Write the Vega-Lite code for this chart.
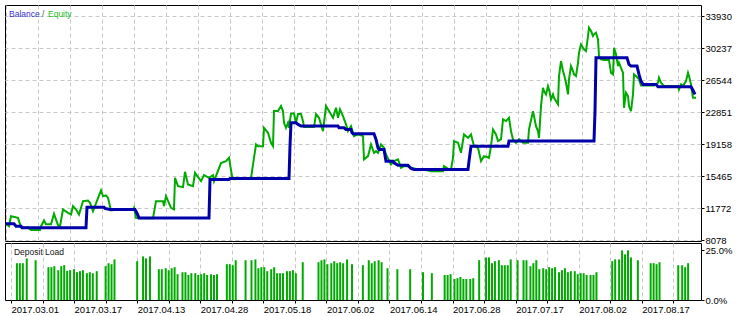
{
  "$schema": "https://vega.github.io/schema/vega-lite/v6.json",
  "background": "white",
  "padding": {"left": 4, "top": 4, "right": 0, "bottom": 0},
  "spacing": 2,
  "bounds": "flush",
  "config": {
    "view": {"stroke": "#000000", "strokeWidth": 1},
    "font": "Liberation Sans",
    "axis": {
      "labelFont": "Liberation Sans",
      "labelFontSize": 9.5,
      "labelColor": "#000000",
      "tickColor": "#000000",
      "tickSize": 3,
      "domain": false,
      "gridColor": "#c8c8c8",
      "gridDash": [4, 3],
      "gridWidth": 1,
      "title": null,
      "labelOverlap": false,
      "labelFlush": false,
      "labelBound": false
    }
  },
  "datasets": {
    "equity": [
      {"t":0,"v":10000},{"t":3,"v":9728},{"t":5,"v":10882},{"t":12,"v":10686},{"t":15,"v":9613},{"t":22,"v":9578},{"t":25,"v":9301},{"t":34,"v":9301},{"t":35,"v":9728},{"t":38,"v":10386},{"t":40,"v":9959},{"t":45,"v":9959},{"t":48,"v":11147},{"t":52,"v":9844},{"t":54,"v":9728},{"t":57,"v":11655},{"t":62,"v":11263},{"t":65,"v":11078},{"t":67,"v":12036},{"t":70,"v":11655},{"t":73,"v":11078},{"t":77,"v":12613},{"t":82,"v":12694},{"t":84,"v":12417},{"t":87,"v":11459},{"t":95,"v":13848},{"t":97,"v":13190},{"t":100,"v":13271},{"t":102,"v":12994},{"t":105,"v":11540},{"t":110,"v":11609},{"t":120,"v":11690},{"t":127,"v":11609},{"t":128,"v":11840},{"t":130,"v":10686},{"t":135,"v":10651},{"t":147,"v":10651},{"t":150,"v":12613},{"t":157,"v":12613},{"t":158,"v":12036},{"t":160,"v":13190},{"t":165,"v":11840},{"t":168,"v":11655},{"t":169,"v":15302},{"t":172,"v":14344},{"t":177,"v":14229},{"t":179,"v":15994},{"t":182,"v":14541},{"t":187,"v":14344},{"t":189,"v":15878},{"t":195,"v":14921},{"t":198,"v":15613},{"t":203,"v":15302},{"t":207,"v":15613},{"t":208,"v":14921},{"t":215,"v":16998},{"t":220,"v":17229},{"t":223,"v":17612},{"t":226,"v":15498},{"t":228,"v":15152},{"t":245,"v":15267},{"t":248,"v":17612},{"t":250,"v":19156},{"t":252,"v":18960},{"t":257,"v":18960},{"t":258,"v":21072},{"t":262,"v":20495},{"t":265,"v":19341},{"t":267,"v":18960},{"t":268,"v":22999},{"t":272,"v":22999},{"t":275,"v":23576},{"t":277,"v":22999},{"t":278,"v":21649},{"t":280,"v":21072},{"t":282,"v":21649},{"t":283,"v":21072},{"t":285,"v":22711},{"t":288,"v":22711},{"t":290,"v":21649},{"t":292,"v":22653},{"t":295,"v":22653},{"t":297,"v":21845},{"t":298,"v":21153},{"t":308,"v":21153},{"t":310,"v":22653},{"t":313,"v":22226},{"t":317,"v":20691},{"t":320,"v":23576},{"t":323,"v":22999},{"t":327,"v":22226},{"t":330,"v":23380},{"t":332,"v":22226},{"t":334,"v":23195},{"t":337,"v":22422},{"t":340,"v":21464},{"t":342,"v":20691},{"t":345,"v":21268},{"t":348,"v":20114},{"t":352,"v":20311},{"t":357,"v":20114},{"t":358,"v":17425},{"t":362,"v":17806},{"t":365,"v":19156},{"t":368,"v":18187},{"t":370,"v":18383},{"t":372,"v":18187},{"t":375,"v":19156},{"t":378,"v":18764},{"t":380,"v":17997},{"t":385,"v":16849},{"t":388,"v":17229},{"t":392,"v":17425},{"t":395,"v":16456},{"t":398,"v":16652},{"t":402,"v":16652},{"t":405,"v":16456},{"t":412,"v":16272},{"t":418,"v":16272},{"t":425,"v":16075},{"t":437,"v":16075},{"t":438,"v":16652},{"t":443,"v":16272},{"t":445,"v":16272},{"t":447,"v":17612},{"t":448,"v":19537},{"t":452,"v":19341},{"t":455,"v":18187},{"t":458,"v":20311},{"t":462,"v":19918},{"t":465,"v":20311},{"t":468,"v":18960},{"t":472,"v":18764},{"t":475,"v":17229},{"t":478,"v":17806},{"t":483,"v":17612},{"t":485,"v":18960},{"t":487,"v":20887},{"t":490,"v":20311},{"t":492,"v":19537},{"t":495,"v":19733},{"t":497,"v":22041},{"t":500,"v":21845},{"t":503,"v":22226},{"t":505,"v":20691},{"t":507,"v":19733},{"t":510,"v":19341},{"t":513,"v":19768},{"t":517,"v":19341},{"t":522,"v":19341},{"t":523,"v":20887},{"t":527,"v":22999},{"t":528,"v":22422},{"t":530,"v":21268},{"t":532,"v":20691},{"t":533,"v":19918},{"t":535,"v":23576},{"t":537,"v":25688},{"t":538,"v":25307},{"t":540,"v":24926},{"t":542,"v":25883},{"t":543,"v":25503},{"t":545,"v":24349},{"t":547,"v":24926},{"t":548,"v":24534},{"t":552,"v":23772},{"t":553,"v":27038},{"t":555,"v":28769},{"t":557,"v":27615},{"t":558,"v":27234},{"t":560,"v":26265},{"t":562,"v":24926},{"t":563,"v":26657},{"t":565,"v":28192},{"t":567,"v":27615},{"t":568,"v":27234},{"t":570,"v":27038},{"t":572,"v":28573},{"t":573,"v":29727},{"t":575,"v":30696},{"t":577,"v":30304},{"t":578,"v":30119},{"t":580,"v":29923},{"t":582,"v":31654},{"t":583,"v":32612},{"t":585,"v":32231},{"t":587,"v":31654},{"t":588,"v":31850},{"t":590,"v":32035},{"t":592,"v":31273},{"t":593,"v":29346},{"t":595,"v":28965},{"t":598,"v":28885},{"t":603,"v":28885},{"t":605,"v":27419},{"t":607,"v":27234},{"t":608,"v":30304},{"t":610,"v":29542},{"t":612,"v":28192},{"t":613,"v":28573},{"t":615,"v":27996},{"t":617,"v":27419},{"t":618,"v":23380},{"t":620,"v":25111},{"t":622,"v":24730},{"t":623,"v":23576},{"t":625,"v":22999},{"t":627,"v":24926},{"t":628,"v":27234},{"t":630,"v":27038},{"t":633,"v":26657},{"t":635,"v":25942},{"t":648,"v":25942},{"t":652,"v":26265},{"t":653,"v":26842},{"t":655,"v":26265},{"t":658,"v":25884},{"t":672,"v":25884},{"t":673,"v":25503},{"t":675,"v":26080},{"t":677,"v":25884},{"t":680,"v":26461},{"t":682,"v":27419},{"t":683,"v":27038},{"t":685,"v":26080},{"t":687,"v":24534},{"t":690,"v":24534}
    ],
    "balance": [
      {"t":0,"v":10000},{"t":8,"v":10000},{"t":10,"v":9715},{"t":15,"v":9715},{"t":16,"v":9554},{"t":80,"v":9554},{"t":81,"v":11921},{"t":98,"v":11921},{"t":99,"v":11771},{"t":104,"v":11655},{"t":129,"v":11655},{"t":131,"v":11228},{"t":133,"v":10686},{"t":203,"v":10686},{"t":204,"v":15117},{"t":223,"v":15117},{"t":224,"v":15233},{"t":283,"v":15233},{"t":284,"v":19000},{"t":285,"v":21649},{"t":290,"v":21649},{"t":292,"v":21464},{"t":295,"v":21268},{"t":332,"v":21268},{"t":333,"v":21072},{"t":338,"v":21072},{"t":340,"v":20887},{"t":345,"v":20887},{"t":346,"v":20495},{"t":347,"v":20380},{"t":368,"v":20380},{"t":370,"v":19733},{"t":372,"v":18764},{"t":373,"v":18580},{"t":378,"v":18580},{"t":380,"v":17229},{"t":387,"v":17229},{"t":388,"v":17033},{"t":392,"v":16744},{"t":402,"v":16744},{"t":405,"v":16387},{"t":408,"v":16272},{"t":462,"v":16272},{"t":463,"v":17229},{"t":465,"v":18960},{"t":502,"v":18960},{"t":503,"v":19537},{"t":588,"v":19537},{"t":589,"v":23000},{"t":590,"v":29150},{"t":621,"v":29150},{"t":623,"v":28388},{"t":625,"v":28192},{"t":631,"v":28192},{"t":633,"v":27234},{"t":635,"v":26461},{"t":637,"v":26080},{"t":650,"v":26080},{"t":652,"v":25804},{"t":685,"v":25804},{"t":687,"v":25400},{"t":689,"v":24926}
    ],
    "load": [
      {"t":6,"p":18.4},{"t":9,"p":18.4},{"t":12,"p":18.4},{"t":16,"p":20.8},{"t":25,"p":19.9},{"t":38,"p":16.4},{"t":41,"p":16.4},{"t":44,"p":16.9},{"t":48,"p":14.9},{"t":51,"p":16.9},{"t":54,"p":17.4},{"t":57,"p":14.6},{"t":60,"p":14.9},{"t":64,"p":15.4},{"t":67,"p":13.9},{"t":70,"p":14.4},{"t":73,"p":14.9},{"t":77,"p":13.4},{"t":80,"p":13.9},{"t":83,"p":13.4},{"t":87,"p":14.4},{"t":96,"p":16.9},{"t":99,"p":18.4},{"t":102,"p":17.9},{"t":105,"p":20.3},{"t":128,"p":19.4},{"t":134,"p":21.8},{"t":137,"p":20.8},{"t":141,"p":21.8},{"t":150,"p":15.4},{"t":153,"p":15.4},{"t":157,"p":15.9},{"t":160,"p":14.9},{"t":163,"p":15.9},{"t":166,"p":16.4},{"t":169,"p":12.9},{"t":174,"p":13.9},{"t":177,"p":13.9},{"t":180,"p":12.5},{"t":183,"p":13.4},{"t":187,"p":13.4},{"t":190,"p":12.5},{"t":193,"p":12.9},{"t":196,"p":13.4},{"t":199,"p":12.5},{"t":203,"p":12.9},{"t":206,"p":12.5},{"t":209,"p":12.9},{"t":219,"p":17.9},{"t":222,"p":17.9},{"t":225,"p":17.4},{"t":228,"p":19.9},{"t":238,"p":19.9},{"t":244,"p":19.9},{"t":248,"p":20.3},{"t":251,"p":15.9},{"t":254,"p":16.4},{"t":257,"p":16.4},{"t":260,"p":14.4},{"t":264,"p":15.4},{"t":267,"p":16.4},{"t":270,"p":13.4},{"t":273,"p":13.4},{"t":276,"p":13.4},{"t":280,"p":14.4},{"t":283,"p":14.4},{"t":286,"p":14.9},{"t":289,"p":13.4},{"t":296,"p":18.9},{"t":312,"p":18.9},{"t":315,"p":19.9},{"t":318,"p":20.3},{"t":321,"p":17.9},{"t":325,"p":18.4},{"t":328,"p":19.4},{"t":331,"p":18.4},{"t":334,"p":18.9},{"t":337,"p":18.4},{"t":341,"p":20.3},{"t":346,"p":17.9},{"t":357,"p":17.4},{"t":363,"p":19.9},{"t":366,"p":18.4},{"t":369,"p":19.4},{"t":373,"p":19.9},{"t":376,"p":18.9},{"t":382,"p":15.9},{"t":392,"p":15.4},{"t":405,"p":15.4},{"t":418,"p":13.9},{"t":427,"p":13.4},{"t":440,"p":12.5},{"t":443,"p":12.5},{"t":446,"p":12.9},{"t":450,"p":10.5},{"t":453,"p":10.9},{"t":456,"p":11.5},{"t":459,"p":10.5},{"t":462,"p":10.5},{"t":466,"p":10.5},{"t":469,"p":10.9},{"t":475,"p":19.9},{"t":482,"p":21.3},{"t":485,"p":21.3},{"t":488,"p":18.4},{"t":491,"p":19.4},{"t":495,"p":19.9},{"t":498,"p":17.4},{"t":501,"p":17.4},{"t":504,"p":17.4},{"t":507,"p":20.3},{"t":514,"p":19.9},{"t":520,"p":19.9},{"t":523,"p":19.9},{"t":527,"p":16.9},{"t":530,"p":18.4},{"t":533,"p":19.9},{"t":536,"p":15.4},{"t":540,"p":15.9},{"t":543,"p":15.4},{"t":546,"p":16.4},{"t":549,"p":15.9},{"t":552,"p":16.4},{"t":556,"p":13.9},{"t":559,"p":14.9},{"t":562,"p":15.9},{"t":565,"p":13.9},{"t":568,"p":14.4},{"t":572,"p":14.4},{"t":575,"p":12.9},{"t":578,"p":13.4},{"t":581,"p":13.4},{"t":584,"p":12.5},{"t":588,"p":12.5},{"t":591,"p":12.5},{"t":594,"p":13.9},{"t":610,"p":19.4},{"t":613,"p":20.3},{"t":617,"p":20.3},{"t":620,"p":24.8},{"t":623,"p":22.8},{"t":626,"p":24.8},{"t":629,"p":21.3},{"t":636,"p":19.9},{"t":649,"p":18.4},{"t":652,"p":18.4},{"t":655,"p":17.9},{"t":658,"p":18.9},{"t":677,"p":17.4},{"t":681,"p":17.4},{"t":684,"p":16.4},{"t":687,"p":18.4}
    ]
  },
  "vconcat": [
    {
      "width": 696,
      "height": 236,
      "layer": [
        {
          "data": {"name": "equity"},
          "mark": {"type": "line", "color": "#00aa00", "strokeWidth": 2, "clip": true},
          "encoding": {
            "x": {"field": "t", "type": "quantitative",
              "scale": {"domain": [-1, 695], "nice": false, "zero": false},
              "axis": {"values": [0,32,64,96,128,160,192,224,256,288,320,352,384,416,448,480,512,544,576,608,640,672], "tickCount": 100, "labels": false, "ticks": false, "grid": true, "orient": "bottom", "labelOverlap": false}},
            "y": {"field": "v", "type": "quantitative",
              "scale": {"domain": [8020, 35233], "nice": false, "zero": false},
              "axis": {"orient": "right", "values": [8078,11772,15465,19158,22851,26544,30237,33930], "tickCount": 100, "format": "d", "grid": true, "labelPadding": 1, "labelOverlap": false, "labelBound": false, "labelFlush": false}}
          }
        },
        {
          "data": {"name": "balance"},
          "mark": {"type": "line", "color": "#0000aa", "strokeWidth": 3, "clip": true},
          "encoding": {
            "x": {"field": "t", "type": "quantitative"},
            "y": {"field": "v", "type": "quantitative"}
          }
        },
        {
          "data": {"values": [{"word": "Balance"}]},
          "mark": {"type": "text", "align": "left", "baseline": "middle", "font": "Liberation Sans", "fontSize": 8.5, "color": "#3333cc"},
          "encoding": {"x": {"datum": 3, "type": "quantitative"}, "y": {"datum": 34195, "type": "quantitative"}, "text": {"field": "word"}}
        },
        {
          "data": {"values": [{"word": "/"}]},
          "mark": {"type": "text", "align": "left", "baseline": "middle", "font": "Liberation Sans", "fontSize": 8.5, "color": "#555555"},
          "encoding": {"x": {"datum": 36, "type": "quantitative"}, "y": {"datum": 34195, "type": "quantitative"}, "text": {"field": "word"}}
        },
        {
          "data": {"values": [{"word": "Equity"}]},
          "mark": {"type": "text", "align": "left", "baseline": "middle", "font": "Liberation Sans", "fontSize": 8.5, "color": "#22bb22"},
          "encoding": {"x": {"datum": 42, "type": "quantitative"}, "y": {"datum": 34195, "type": "quantitative"}, "text": {"field": "word"}}
        }
      ]
    },
    {
      "width": 696,
      "height": 57,
      "layer": [
        {
          "data": {"name": "load"},
          "mark": {"type": "bar", "color": "#00aa00", "size": 2, "orient": "vertical"},
          "encoding": {
            "x": {"field": "t", "type": "quantitative",
              "scale": {"domain": [-1, 695], "nice": false, "zero": false},
              "axis": {"values": [0,32,64,96,128,160,192,224,256,288,320,352,384,416,448,480,512,544,576,608,640,672], "tickCount": 100, "grid": true, "orient": "bottom", "labelAlign": "left", "labelBaseline": "top", "labelPadding": 1, "labelOverlap": false,
                "labelExpr": "datum.value % 64 == 0 ? ['2017.03.01','2017.03.17','2017.04.13','2017.04.28','2017.05.18','2017.06.02','2017.06.14','2017.06.28','2017.07.17','2017.08.02','2017.08.17'][datum.value / 64] : ''"}},
            "y": {"field": "p", "type": "quantitative",
              "scale": {"domain": [0, 28.5], "nice": false, "zero": true},
              "axis": {"orient": "right", "values": [0, 25], "tickCount": 100, "grid": false, "labelPadding": 1, "labelOverlap": false, "labelExpr": "format(datum.value, '.1f') + '%'"}}
          }
        },
        {
          "data": {"values": [{"word": "Deposit Load"}]},
          "mark": {"type": "text", "align": "left", "baseline": "middle", "font": "Liberation Sans", "fontSize": 8.5, "color": "#111111"},
          "encoding": {"x": {"datum": 3, "type": "quantitative"}, "y": {"datum": 24, "type": "quantitative"}, "text": {"field": "word"}}
        }
      ]
    }
  ]
}
